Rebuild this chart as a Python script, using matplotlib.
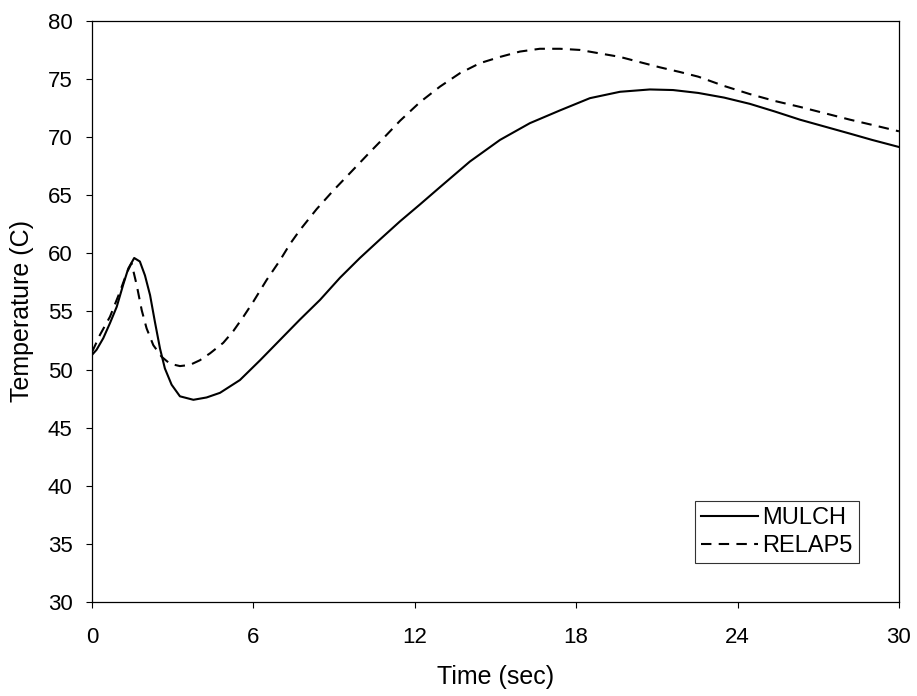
import matplotlib
matplotlib.use("Agg")
import matplotlib.pyplot as plt

plt.rcParams['font.family'] = ['Liberation Sans', 'DejaVu Sans']

# valores (tiempo en s, temperatura en C)
t_mulch = [0, 0.17, 0.42, 0.67, 0.92, 1.16, 1.35, 1.57, 1.78, 1.97, 2.16,
           2.34, 2.53, 2.71, 2.96, 3.27, 3.77, 4.26, 4.76, 5.5, 6.25, 6.99,
           7.73, 8.48, 9.22, 9.96, 10.71, 11.45, 12.19, 12.94, 14.05, 15.17,
           16.28, 17.4, 18.51, 19.63, 20.74, 21.6, 22.54, 23.5, 24.46, 25.39,
           26.32, 27.25, 28.18, 29.0, 30]
T_mulch = [51.26, 51.7, 52.7, 54.0, 55.4, 57.3, 58.7, 59.6, 59.3, 58.1, 56.4,
           54.1, 51.8, 50.1, 48.7, 47.7, 47.4, 47.6, 48.0, 49.1, 50.8, 52.55,
           54.3, 56.0, 57.9, 59.6, 61.2, 62.75, 64.2, 65.7, 67.9, 69.76,
           71.2, 72.3, 73.35, 73.9, 74.1, 74.05, 73.8, 73.4, 72.86, 72.2,
           71.5, 70.9, 70.3, 69.76, 69.15]

t_relap = [0, 0.3, 0.67, 1.04, 1.29, 1.47, 1.66, 1.85, 2.03, 2.28, 2.59,
           2.9, 3.27, 3.64, 4.01, 4.39, 4.88, 5.25, 5.63, 6.0, 6.49, 6.99,
           7.36, 7.73, 8.35, 8.97, 9.59, 10.33, 10.71, 11.45, 12.19, 12.94,
           13.68, 14.42, 15.17, 15.91, 16.65, 17.4, 18.14, 18.88, 19.63,
           20.37, 21.12, 21.86, 22.54, 23.5, 24.46, 25.4, 26.32, 27.25,
           28.18, 29.1, 30]
T_relap = [51.5, 53.0, 54.55, 56.7, 58.3, 59.15, 57.3, 55.1, 53.55, 52.1, 51.1,
           50.5, 50.3, 50.4, 50.8, 51.4, 52.3, 53.3, 54.55, 55.85, 57.7, 59.4,
           60.8, 62.0, 63.8, 65.4, 66.9, 68.7, 69.6, 71.4, 73.0, 74.35,
           75.5, 76.36, 76.9, 77.36, 77.6, 77.6, 77.5, 77.2, 76.9,
           76.45, 76.0, 75.6, 75.2, 74.4, 73.7, 73.1, 72.6, 72.05,
           71.5, 71.0, 70.5]

x_ticks = [0, 6, 12, 18, 24, 30]
y_ticks = [30, 35, 40, 45, 50, 55, 60, 65, 70, 75, 80]

fig = plt.figure(figsize=(9.17, 6.96), dpi=100)
ax = fig.add_axes([0.1003, 0.135, 0.880, 0.835])

ax.plot(t_mulch, T_mulch, color='black', lw=1.5, label='MULCH')
ax.plot(t_relap, T_relap, color='black', lw=1.5, dashes=(5, 3.5), label='RELAP5')

ax.set_xlim(0, 30)
ax.set_ylim(30, 80)
ax.set_xticks(x_ticks)
ax.set_yticks(y_ticks)
ax.tick_params(direction='out', length=4, width=0.8, labelsize=16)
ax.tick_params(axis='x', pad=14)
ax.tick_params(axis='y', pad=10)
for s in ax.spines.values():
    s.set_linewidth(0.9)

ax.set_xlabel('Time (sec)', fontsize=18, labelpad=12)
ax.set_ylabel('Temperature (C)', fontsize=18, labelpad=10)

leg = ax.legend(loc='lower right', bbox_to_anchor=(0.95, 0.067), fontsize=17,
                frameon=True, fancybox=False, handlelength=2.4,
                handletextpad=0.2, borderpad=0.25, labelspacing=0.25,
                borderaxespad=0)
leg.get_frame().set_edgecolor('black')
leg.get_frame().set_linewidth(0.8)

fig.savefig('out.png', dpi=100)
